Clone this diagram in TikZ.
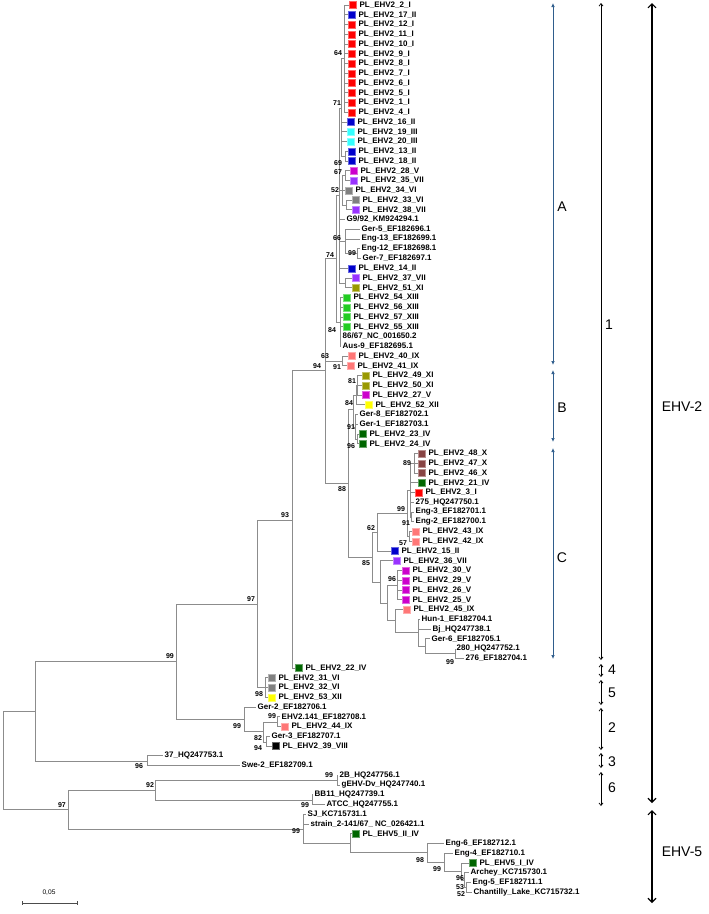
\documentclass[tikz,border=0pt]{standalone}
\usepackage{fontspec}
\setmainfont{Liberation Sans}
\usetikzlibrary{arrows.meta,positioning}

\definecolor{treegray}{HTML}{8C8C8C}
\definecolor{cladeblue}{HTML}{2F5D8C}
\definecolor{gI}{HTML}{FF0000}
\definecolor{gII}{HTML}{0000CC}
\definecolor{gIII}{HTML}{33FFFF}
\definecolor{gIV}{HTML}{006600}
\definecolor{gV}{HTML}{CC00CC}
\definecolor{gVI}{HTML}{808080}
\definecolor{gVII}{HTML}{9933FF}
\definecolor{gVIII}{HTML}{000000}
\definecolor{gIX}{HTML}{FF7777}
\definecolor{gX}{HTML}{884444}
\definecolor{gXI}{HTML}{999900}
\definecolor{gXII}{HTML}{FFFF00}
\definecolor{gXIII}{HTML}{22CC22}

\tikzset{
  br/.style={treegray, line width=0.8pt},
  sq/.style={anchor=west, minimum size=7pt, inner sep=0pt, fill=#1, draw=#1!60!white, line width=0.4pt},
  tlab/.style={anchor=west, inner sep=1.5pt, font=\fontsize{8}{9}\selectfont\bfseries},
  bs/.style={inner sep=0pt, font=\fontsize{7}{8}\selectfont\bfseries},
  subbr/.style={cladeblue, line width=0.7pt, {Latex[length=4pt,width=3.5pt]}-{Latex[length=4pt,width=3.5pt]}},
  grpbr/.style={black, line width=0.7pt, {Straight Barb[length=2.5pt,width=4pt]}-{Straight Barb[length=2.5pt,width=4pt]}},
  virbr/.style={black, line width=1.1pt, {Straight Barb[length=4pt,width=8pt]}-{Straight Barb[length=4pt,width=8pt]}},
  brlab/.style={font=\fontsize{14}{16}\selectfont},
}

% coloured tip: name, row, x, colour, text
\newcommand{\pl}[5]{\node[sq=#4] (#1) at (#3,{ry(#2)}) {};
  \node[tlab, right=1.5pt of #1] (#1t) {#5};}
% reference tip: name, row, x, text
\newcommand{\rf}[4]{\node[tlab] (#1) at (#3,{ry(#2)}) {#4};}
% parent -> children
\newcommand{\clade}[2]{\foreach \ch in {#2}{\draw[br] (#1) |- (\ch);}}

\begin{document}
\begin{tikzpicture}[x=1pt, y=-1pt, declare function={ry(\i)=5+9.75*(\i-1);}]
\useasboundingbox (0,0) rectangle (709,914);

% ---- tips, top to bottom
\pl{l1}{1}{349}{gI}{PL\_EHV2\_2\_I}
\pl{l2}{2}{348}{gII}{PL\_EHV2\_17\_II}
\pl{l3}{3}{348}{gI}{PL\_EHV2\_12\_I}
\pl{l4}{4}{348}{gI}{PL\_EHV2\_11\_I}
\pl{l5}{5}{348}{gI}{PL\_EHV2\_10\_I}
\pl{l6}{6}{348}{gI}{PL\_EHV2\_9\_I}
\pl{l7}{7}{348}{gI}{PL\_EHV2\_8\_I}
\pl{l8}{8}{348}{gI}{PL\_EHV2\_7\_I}
\pl{l9}{9}{348}{gI}{PL\_EHV2\_6\_I}
\pl{l10}{10}{348}{gI}{PL\_EHV2\_5\_I}
\pl{l11}{11}{348}{gI}{PL\_EHV2\_1\_I}
\pl{l12}{12}{348}{gI}{PL\_EHV2\_4\_I}
\pl{l13}{13}{347}{gII}{PL\_EHV2\_16\_II}
\pl{l14}{14}{347}{gIII}{PL\_EHV2\_19\_III}
\pl{l15}{15}{347}{gIII}{PL\_EHV2\_20\_III}
\pl{l16}{16}{348}{gII}{PL\_EHV2\_13\_II}
\pl{l17}{17}{348}{gII}{PL\_EHV2\_18\_II}
\pl{l18}{18}{350}{gV}{PL\_EHV2\_28\_V}
\pl{l19}{19}{350}{gVII}{PL\_EHV2\_35\_VII}
\pl{l20}{20}{345}{gVI}{PL\_EHV2\_34\_VI}
\pl{l21}{21}{352}{gVI}{PL\_EHV2\_33\_VI}
\pl{l22}{22}{352}{gVII}{PL\_EHV2\_38\_VII}
\rf{l23}{23}{345}{G9/92\_KM924294.1}
\rf{l24}{24}{360}{Ger-5\_EF182696.1}
\rf{l25}{25}{360}{Eng-13\_EF182699.1}
\rf{l26}{26}{360}{Eng-12\_EF182698.1}
\rf{l27}{27}{361}{Ger-7\_EF182697.1}
\pl{l28}{28}{348}{gII}{PL\_EHV2\_14\_II}
\pl{l29}{29}{352}{gVII}{PL\_EHV2\_37\_VII}
\pl{l30}{30}{352}{gXI}{PL\_EHV2\_51\_XI}
\pl{l31}{31}{343}{gXIII}{PL\_EHV2\_54\_XIII}
\pl{l32}{32}{343}{gXIII}{PL\_EHV2\_56\_XIII}
\pl{l33}{33}{343}{gXIII}{PL\_EHV2\_57\_XIII}
\pl{l34}{34}{343}{gXIII}{PL\_EHV2\_55\_XIII}
\rf{l35}{35}{341}{86/67\_NC\_001650.2}
\rf{l36}{36}{341}{Aus-9\_EF182695.1}
\pl{l37}{37}{348}{gIX}{PL\_EHV2\_40\_IX}
\pl{l38}{38}{347}{gIX}{PL\_EHV2\_41\_IX}
\pl{l39}{39}{362}{gXI}{PL\_EHV2\_49\_XI}
\pl{l40}{40}{362}{gXI}{PL\_EHV2\_50\_XI}
\pl{l41}{41}{362}{gV}{PL\_EHV2\_27\_V}
\pl{l42}{42}{365}{gXII}{PL\_EHV2\_52\_XII}
\rf{l43}{43}{358}{Ger-8\_EF182702.1}
\rf{l44}{44}{358}{Ger-1\_EF182703.1}
\pl{l45}{45}{359}{gIV}{PL\_EHV2\_23\_IV}
\pl{l46}{46}{359}{gIV}{PL\_EHV2\_24\_IV}
\pl{l47}{47}{418}{gX}{PL\_EHV2\_48\_X}
\pl{l48}{48}{418}{gX}{PL\_EHV2\_47\_X}
\pl{l49}{49}{418}{gX}{PL\_EHV2\_46\_X}
\pl{l50}{50}{418}{gIV}{PL\_EHV2\_21\_IV}
\pl{l51}{51}{415}{gI}{PL\_EHV2\_3\_I}
\rf{l52}{52}{414}{275\_HQ247750.1}
\rf{l53}{53}{414}{Eng-3\_EF182701.1}
\rf{l54}{54}{414}{Eng-2\_EF182700.1}
\pl{l55}{55}{412}{gIX}{PL\_EHV2\_43\_IX}
\pl{l56}{56}{412}{gIX}{PL\_EHV2\_42\_IX}
\pl{l57}{57}{391}{gII}{PL\_EHV2\_15\_II}
\pl{l58}{58}{393}{gVII}{PL\_EHV2\_36\_VII}
\pl{l59}{59}{402}{gV}{PL\_EHV2\_30\_V}
\pl{l60}{60}{402}{gV}{PL\_EHV2\_29\_V}
\pl{l61}{61}{402}{gV}{PL\_EHV2\_26\_V}
\pl{l62}{62}{402}{gV}{PL\_EHV2\_25\_V}
\pl{l63}{63}{403}{gIX}{PL\_EHV2\_45\_IX}
\rf{l64}{64}{420}{Hun-1\_EF182704.1}
\rf{l65}{65}{431}{Bj\_HQ247738.1}
\rf{l66}{66}{430}{Ger-6\_EF182705.1}
\rf{l67}{67}{455}{280\_HQ247752.1}
\rf{l68}{68}{464}{276\_EF182704.1}
\pl{l69}{69}{295}{gIV}{PL\_EHV2\_22\_IV}
\pl{l70}{70}{268}{gVI}{PL\_EHV2\_31\_VI}
\pl{l71}{71}{268}{gVI}{PL\_EHV2\_32\_VI}
\pl{l72}{72}{268}{gXII}{PL\_EHV2\_53\_XII}
\rf{l73}{73}{256}{Ger-2\_EF182706.1}
\rf{l74}{74}{280}{EHV2.141\_EF182708.1}
\pl{l75}{75}{281}{gIX}{PL\_EHV2\_44\_IX}
\rf{l76}{76}{270}{Ger-3\_EF182707.1}
\pl{l77}{77}{272}{gVIII}{PL\_EHV2\_39\_VIII}
\rf{l78}{78}{163}{37\_HQ247753.1}
\rf{l79}{79}{240}{Swe-2\_EF182709.1}
\rf{l80}{80}{338}{2B\_HQ247756.1}
\rf{l81}{81}{340}{gEHV-Dv\_HQ247740.1}
\rf{l82}{82}{313}{BB11\_HQ247739.1}
\rf{l83}{83}{325}{ATCC\_HQ247755.1}
\rf{l84}{84}{306}{SJ\_KC715731.1}
\rf{l85}{85}{309}{strain\_2-141/67\_ NC\_026421.1}
\pl{l86}{86}{352}{gIV}{PL\_EHV5\_II\_IV}
\rf{l87}{87}{444}{Eng-6\_EF182712.1}
\rf{l88}{88}{453}{Eng-4\_EF182710.1}
\pl{l89}{89}{469}{gIV}{PL\_EHV5\_I\_IV}
\rf{l90}{90}{469}{Archey\_KC715730.1}
\rf{l91}{91}{471}{Eng-5\_EF182711.1}
\rf{l92}{92}{472}{Chantilly\_Lake\_KC715732.1}

% ---- inner nodes
\coordinate (n64) at (344,58.6);
\coordinate (n69) at (345,156);
\coordinate (n71) at (341,108);
\coordinate (n67) at (345,175.6);
\coordinate (n38) at (346,205);
\coordinate (n52) at (342,190);
\coordinate (n99a) at (357,253.6);
\coordinate (n66) at (345,241);
\coordinate (n37) at (345,283);
\coordinate (nU) at (339,195);
\coordinate (n84) at (340,322);
\coordinate (n74) at (336,258);
\coordinate (n91) at (342,361);
\coordinate (n63) at (331,361);
\coordinate (n81) at (357,385);
\coordinate (nB1) at (356,395);
\coordinate (n96b) at (357,439);
\coordinate (nB91) at (355,427);
\coordinate (nB84) at (353,409);
\coordinate (n89) at (414,463);
\coordinate (n91c) at (411,517);
\coordinate (nCa) at (410,490);
\coordinate (n57) at (409,536);
\coordinate (n99c) at (407,513);
\coordinate (n62) at (377,532);
\coordinate (n99g) at (455,653.5);
\coordinate (nG) at (425,646);
\coordinate (nH) at (418,632);
\coordinate (nC4) at (395,620);
\coordinate (n96c) at (397,585.5);
\coordinate (nC3) at (387,603);
\coordinate (nC2) at (380,582);
\coordinate (n85) at (372,557);
\coordinate (n88) at (348,483);
\coordinate (n94) at (325,370);
\coordinate (n93) at (292,520);
\coordinate (n98) at (265,687);
\coordinate (n97) at (257,604);
\coordinate (n99b) at (277,722);
\coordinate (n94b) at (266,742);
\coordinate (n82) at (263,731.5);
\coordinate (n2) at (244,719);
\coordinate (n99t) at (176,661);
\coordinate (n96) at (147,761);
\coordinate (nR1) at (35,711);
\coordinate (n2b) at (337,780);
\coordinate (n99d) at (312,800);
\coordinate (n92) at (155,790);
\coordinate (n52e) at (466,887.4);
\coordinate (n53e) at (464,880);
\coordinate (n96e) at (461,871.5);
\coordinate (n99e) at (444,862);
\coordinate (n98e) at (427,852.5);
\coordinate (nE5b) at (350,843);
\coordinate (nE5) at (303,829);
\coordinate (n97r) at (68,809);
\coordinate (root) at (3,760);

% ---- branches
\clade{n64}{l1,l2,l3,l4,l5,l6,l7,l8,l9,l10,l11,l12}
\clade{n69}{l16,l17}
\clade{n71}{n64,l13,l14,l15,n69}
\clade{n67}{l18,l19}
\clade{n38}{l21,l22}
\clade{n52}{n67,l20,n38}
\clade{n99a}{l26,l27}
\clade{n66}{l24,l25,n99a}
\clade{n37}{l29,l30}
\clade{nU}{n71,n52,l23,n66,l28,n37}
\clade{n84}{l31,l32,l33,l34,l35,l36}
\clade{n74}{nU,n84}
\clade{n91}{l37,l38}
\clade{n63}{n91}
\clade{n81}{l39,l40,l41}
\clade{nB1}{n81,l42}
\clade{n96b}{l45,l46}
\clade{nB91}{l43,l44,n96b}
\clade{nB84}{nB1,nB91}
\clade{n89}{l47,l48,l49}
\clade{n91c}{l53,l54}
\clade{nCa}{n89,l50,l51,l52,n91c}
\clade{n57}{l55,l56}
\clade{n99c}{nCa,n57}
\clade{n62}{n99c,l57}
\clade{n99g}{l67,l68}
\clade{nG}{l66,n99g}
\clade{nH}{l64,l65,nG}
\clade{nC4}{l63,nH}
\clade{n96c}{l59,l60,l61,l62}
\clade{nC3}{n96c,nC4}
\clade{nC2}{l58,nC3}
\clade{n85}{n62,nC2}
\clade{n88}{nB84,n85}
\clade{n94}{n74,n63,n88}
\clade{n93}{n94,l69}
\clade{n98}{l70,l71,l72}
\clade{n97}{n93,n98}
\clade{n99b}{l74,l75}
\clade{n94b}{l76,l77}
\clade{n82}{n99b,n94b}
\clade{n2}{l73,n82}
\clade{n99t}{n97,n2}
\clade{n96}{l78,l79}
\clade{nR1}{n99t,n96}
\clade{n2b}{l80,l81}
\clade{n99d}{l82,l83}
\clade{n92}{n2b,n99d}
\clade{n52e}{l91,l92}
\clade{n53e}{l90,n52e}
\clade{n96e}{l89,n53e}
\clade{n99e}{l88,n96e}
\clade{n98e}{l87,n99e}
\clade{nE5b}{l86,n98e}
\clade{nE5}{l84,l85,nE5b}
\clade{n97r}{n92,nE5}
\clade{root}{nR1,n97r}

% ---- bootstrap values
\node[bs] (bt64) at (338,53) {64};
\node[bs] (bt71) at (337,103) {71};
\node[bs] (bt69) at (338,163) {69};
\node[bs] (bt67) at (338,172) {67};
\node[bs] (bt52) at (335,190) {52};
\node[bs] (bt66) at (337,238) {66};
\node[bs] (bt74) at (330,255) {74};
\node[bs] (bt99a) at (352,253) {99};
\node[bs] (bt84) at (332,330) {84};
\node[bs] (bt63) at (325,356) {63};
\node[bs] (bt94) at (317,366) {94};
\node[bs] (bt91) at (337,367) {91};
\node[bs] (bt81) at (352,381) {81};
\node[bs] (bt84b) at (349,403) {84};
\node[bs] (bt91b) at (351,427) {91};
\node[bs] (bt96b) at (351,446) {96};
\node[bs] (bt89) at (407,463) {89};
\node[bs] (bt88) at (342,489) {88};
\node[bs] (bt99c) at (401,509) {99};
\node[bs] (bt91c) at (406,523) {91};
\node[bs] (bt62) at (371,528) {62};
\node[bs] (bt57) at (403,543) {57};
\node[bs] (bt85) at (366,563) {85};
\node[bs] (bt96c) at (392,579) {96};
\node[bs] (bt99g) at (450,662) {99};
\node[bs] (bt93) at (285,515) {93};
\node[bs] (bt97) at (251,599) {97};
\node[bs] (bt99t) at (170,656) {99};
\node[bs] (bt98) at (259,694) {98};
\node[bs] (bt99s) at (237,726) {99};
\node[bs] (bt82) at (258,738) {82};
\node[bs] (bt94s) at (258,748) {94};
\node[bs] (bt99h) at (272,716) {99};
\node[bs] (bt96) at (139,766) {96};
\node[bs] (bt92) at (150,785) {92};
\node[bs] (bt99k) at (329,775) {99};
\node[bs] (bt99m) at (305,805) {99};
\node[bs] (bt97r) at (62,805) {97};
\node[bs] (bt99e5) at (296,831) {99};
\node[bs] (bt98e) at (420,860) {98};
\node[bs] (bt99e) at (437,869) {99};
\node[bs] (bt96e) at (460,878) {96};
\node[bs] (bt53e) at (460,887) {53};
\node[bs] (bt52e) at (461,894) {52};

% ---- clade brackets
\coordinate (A1) at (553,3);   \coordinate (A2) at (553,365);
\coordinate (B1) at (553,370); \coordinate (B2) at (553,442);
\coordinate (C1) at (553,448); \coordinate (C2) at (553,659);
\draw[subbr] (A1) -- (A2);
\draw[subbr] (B1) -- (B2);
\draw[subbr] (C1) -- (C2);
\node[brlab] (labA) at (562,207) {A};
\node[brlab] (labB) at (562,408) {B};
\node[brlab] (labC) at (562,558) {C};

\coordinate (g1a) at (601,3);   \coordinate (g1b) at (601,660);
\coordinate (g4a) at (601,664); \coordinate (g4b) at (601,677);
\coordinate (g5a) at (601,680); \coordinate (g5b) at (601,705);
\coordinate (g2a) at (601,708); \coordinate (g2b) at (601,750);
\coordinate (g3a) at (601,753); \coordinate (g3b) at (601,768);
\coordinate (g6a) at (601,772); \coordinate (g6b) at (601,806);
\foreach \g in {1,4,5,2,3,6}{\draw[grpbr] (g\g a) -- (g\g b);}
\node[brlab] (lab1) at (609,325) {1};
\node[brlab] (lab4) at (612,670) {4};
\node[brlab] (lab5) at (612,693) {5};
\node[brlab] (lab2) at (612,728) {2};
\node[brlab] (lab3) at (612,762) {3};
\node[brlab] (lab6) at (612,788) {6};

\coordinate (V2a) at (652,3);   \coordinate (V2b) at (652,803);
\coordinate (V5a) at (652,810); \coordinate (V5b) at (652,903);
\draw[virbr] (V2a) -- (V2b);
\draw[virbr] (V5a) -- (V5b);
\node[brlab] (labV2) at (682,407) {EHV-2};
\node[brlab] (labV5) at (682,852) {EHV-5};

% ---- scale bar
\coordinate (sc1) at (22,903); \coordinate (sc2) at (77,903);
\draw[black!70, line width=0.6pt] (sc1) -- (sc2);
\draw[black!70, line width=0.6pt] (sc1) ++(0,-2) -- ++(0,4);
\draw[black!70, line width=0.6pt] (sc2) ++(0,-2) -- ++(0,4);
\node[bs, font=\fontsize{6.6}{7}\selectfont] (scl) at (49,893) {0,05};
\end{tikzpicture}
\end{document}
